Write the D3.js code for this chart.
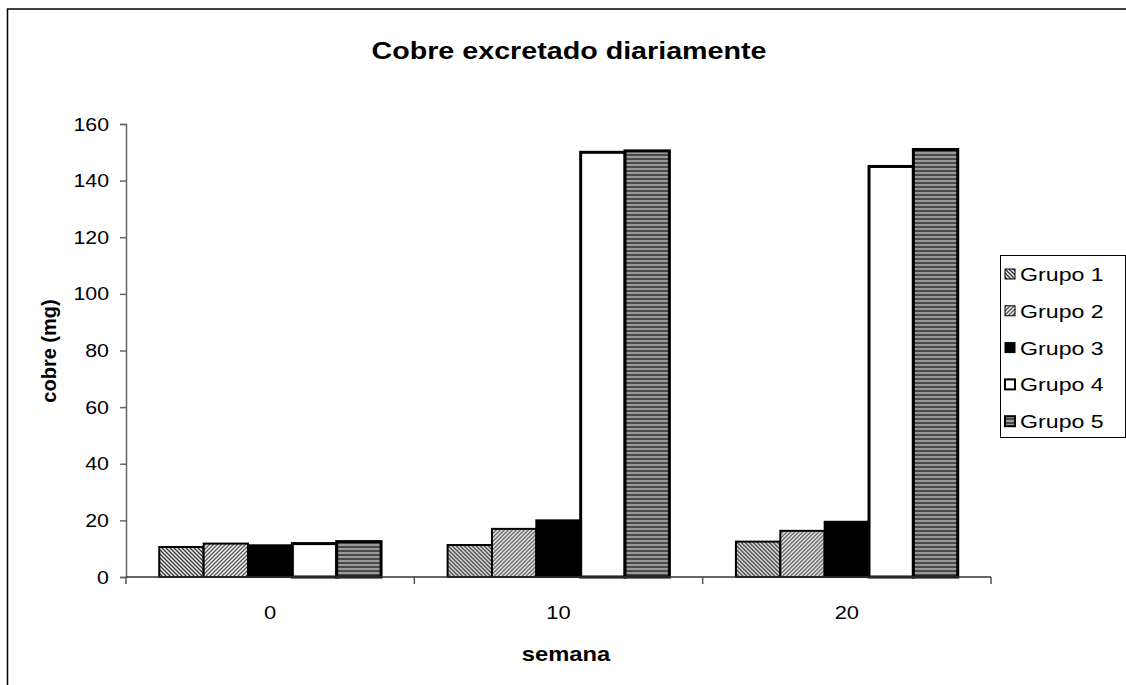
<!DOCTYPE html>
<html>
<head>
<meta charset="utf-8">
<script src="https://cdn.jsdelivr.net/npm/d3@7"></script>
<style>
  html, body { margin: 0; padding: 0; background: #fff; }
  svg { display: block; font-family: Arial, "Liberation Sans", sans-serif; }
</style>
</head>
<body>
<svg id="chart" width="1126" height="685"></svg>
<script>
// Daily copper excretion per group, by week
const weeks = ["0", "10", "20"];
const groups = ["Grupo 1", "Grupo 2", "Grupo 3", "Grupo 4", "Grupo 5"];
const grupo1 = [10.6, 11.3, 12.5];
const grupo2 = [11.8, 17.0, 16.3];
const grupo3 = [11.2, 20.0, 19.5];
const grupo4 = [11.8, 150.0, 145.0];
const grupo5 = [12.5, 150.5, 151.0];
const yTicks = [0, 20, 40, 60, 80, 100, 120, 140, 160];

const series = [grupo1, grupo2, grupo3, grupo4, grupo5];
const SX = 1.22; // horizontal widening of the chart's lettering

const svg = d3.select("#chart");
const defs = svg.append("defs");

// Fill patterns for the groups
function diagPattern(id, dir, ink, bg) {
  const p = defs.append("pattern").attr("id", id)
    .attr("patternUnits", "userSpaceOnUse").attr("width", 4).attr("height", 4);
  p.append("rect").attr("width", 4).attr("height", 4).attr("fill", bg);
  const d = dir > 0
    ? "M-1,1 l2,-2 M0,4 l4,-4 M3,5 l2,-2"
    : "M-1,3 l2,2 M0,0 l4,4 M3,-1 l2,2";
  p.append("path").attr("d", d).attr("stroke", ink).attr("stroke-width", 1.3);
}
diagPattern("pat1", -1, "#333", "#eee");
diagPattern("pat2", 1, "#555", "#f4f4f4");
const p5 = defs.append("pattern").attr("id", "pat5")
  .attr("patternUnits", "userSpaceOnUse").attr("width", 4).attr("height", 4);
p5.append("rect").attr("width", 4).attr("height", 4).attr("fill", "#9a9a9a");
p5.append("rect").attr("y", 2).attr("width", 4).attr("height", 2).attr("fill", "#4a4a4a");

const fills = ["url(#pat1)", "url(#pat2)", "#000", "#fff", "url(#pat5)"];
const strokeW = [2, 2, 2, 3, 3];

// Widened text helper
function label(parent, x, y, str, size, opts = {}) {
  return parent.append("text")
    .attr("transform", `translate(${x},${y}) scale(${SX},1)`)
    .attr("text-anchor", opts.anchor || "start")
    .attr("font-size", size)
    .attr("font-weight", opts.bold ? "bold" : "normal")
    .attr("fill", "#000")
    .text(str);
}

// Outer frame
svg.append("rect").attr("x", 7.5).attr("y", 9).attr("width", 1130).attr("height", 690)
  .attr("fill", "none").attr("stroke", "#000").attr("stroke-width", 1.5);

const margin = { left: 126, top: 124, right: 991, bottom: 577 };

const x0 = d3.scaleBand().domain(weeks).range([margin.left, margin.right]).paddingInner(0).paddingOuter(0);
const inner = x0.bandwidth() / (5 + 1.5);
const x1 = d3.scaleBand().domain(groups)
  .range([inner * 0.75, x0.bandwidth() - inner * 0.75]).padding(0);
const y = d3.scaleLinear().domain([0, 160]).range([margin.bottom, margin.top]);

// Bars
weeks.forEach((w, wi) => {
  const g = svg.append("g").attr("transform", `translate(${x0(w)},0)`);
  g.selectAll("rect").data(groups).join("rect")
    .attr("x", d => x1(d))
    .attr("y", (d, gi) => y(series[gi][wi]))
    .attr("width", x1.bandwidth())
    .attr("height", (d, gi) => y(0) - y(series[gi][wi]))
    .attr("fill", (d, gi) => fills[gi])
    .attr("stroke", "#000")
    .attr("stroke-width", (d, gi) => strokeW[gi]);
});

// Y axis
const yAxis = svg.append("g").attr("transform", `translate(${margin.left},0)`)
  .call(d3.axisLeft(y).tickValues(yTicks).tickSize(6).tickPadding(8).tickFormat(d3.format("d")));
yAxis.select(".domain").attr("stroke", "#666").attr("stroke-width", 1.5);
yAxis.selectAll(".tick line").attr("stroke", "#666").attr("stroke-width", 1.5);
yAxis.selectAll(".tick text")
  .attr("x", 0).attr("dy", null)
  .attr("transform", `translate(-17,6) scale(${SX},1)`)
  .attr("font-size", 17.5).attr("fill", "#000")
  .attr("font-family", "Arial, 'Liberation Sans', sans-serif");

// X axis: baseline with ticks at category boundaries
const xAxis = svg.append("g").attr("transform", `translate(0,${margin.bottom})`);
xAxis.append("line").attr("x1", margin.left).attr("x2", margin.right)
  .attr("stroke", "#333").attr("stroke-width", 1.5);
const bounds = weeks.map(w => x0(w)).concat([x0(weeks[weeks.length - 1]) + x0.bandwidth()]);
xAxis.selectAll("line.tk").data(bounds).join("line").attr("class", "tk")
  .attr("x1", d => d).attr("x2", d => d).attr("y1", 0).attr("y2", 7)
  .attr("stroke", "#555").attr("stroke-width", 1.5);
weeks.forEach(w => label(xAxis, x0(w) + x0.bandwidth() / 2, 42, w, 18, { anchor: "middle" }));

// Title and axis titles
label(svg, 569, 59, "Cobre excretado diariamente", 23.5, { anchor: "middle", bold: true });
svg.append("text").attr("transform", "translate(56,351) rotate(-90)")
  .attr("text-anchor", "middle").attr("font-size", 20).attr("font-weight", "bold").text("cobre (mg)");
label(svg, 566, 661, "semana", 19.5, { anchor: "middle", bold: true });

// Legend
const legend = svg.append("g");
legend.append("rect").attr("x", 1000.5).attr("y", 255.5).attr("width", 125).attr("height", 182)
  .attr("fill", "#fff").attr("stroke", "#000").attr("stroke-width", 1);
groups.forEach((name, i) => {
  const cy = 274 + i * 36.8;
  legend.append("rect").attr("x", 1005).attr("y", cy - 5).attr("width", 10).attr("height", 10)
    .attr("fill", fills[i]).attr("stroke", "#000").attr("stroke-width", i >= 3 ? 2 : 1);
  label(legend, 1020, cy + 7, name, 19);
});
</script>
</body>
</html>
